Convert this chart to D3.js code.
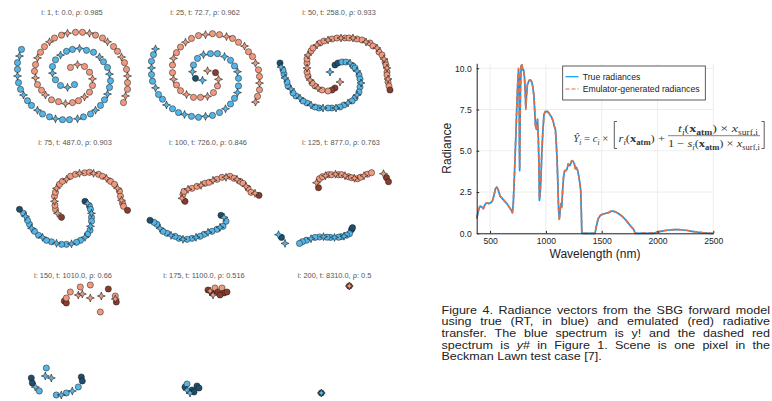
<!DOCTYPE html>
<html>
<head>
<meta charset="utf-8">
<script src="https://cdn.jsdelivr.net/npm/d3@7"></script>
<style>
  body { margin: 0; background: #fff; }
  svg { display: block; }
</style>
</head>
<body>
<div id="fig"></div>
<script>
// ---------- spiral snapshots (offsets from panel centre, px-like units) ----------
// third value: 0 circle, 1 star, 2 dark (overlapping) marker; missing -> alternate
const panelTitles = ["i: 1, t: 0.0, ρ: 0.985", "i: 25, t: 72.7, ρ: 0.962", "i: 50, t: 258.0, ρ: 0.933",
  "i: 75, t: 487.0, ρ: 0.903", "i: 100, t: 726.0, ρ: 0.846", "i: 125, t: 877.0, ρ: 0.763",
  "i: 150, t: 1010.0, ρ: 0.66", "i: 175, t: 1100.0, ρ: 0.516", "i: 200, t: 8310.0, ρ: 0.5"];

const p1Red = [[-2,-9],[5,-12],[12,-10],[17,-4],[20,3],[20,10],[17,17],[12,22],[6,26],[0,28],[-7,29],[-14,27],[-21,25],[-27,20],[-31,15],[-35,9],[-37,2],[-38,-5],[-37,-12],[-35,-19],[-32,-25],[-28,-31],[-23,-36],[-18,-40],[-11,-43],[-5,-45],[3,-46],[10,-46],[17,-45],[23,-43],[30,-40],[35,-36],[41,-31],[45,-26],[49,-20],[52,-14],[54,-7],[55,0],[55,7],[55,14],[53,21],[51,28]];
const p1Blue = [[2,9],[-5,12],[-12,10],[-17,4],[-20,-3],[-20,-10],[-17,-17],[-12,-22],[-6,-26],[0,-28],[7,-29],[14,-27],[21,-25],[27,-20],[31,-15],[35,-9],[37,-2],[38,5],[37,12],[35,19],[32,25],[28,31],[23,36],[18,40],[11,43],[5,45],[-3,46],[-10,46],[-17,45],[-23,43],[-30,40],[-35,36],[-41,31],[-45,26],[-49,20],[-52,14],[-54,7],[-55,0],[-55,-7],[-55,-14],[-53,-21],[-51,-28]];

const p2Red = [[10,-3,2],[13,4],[12,11],[8,18],[2,22],[-5,23],[-12,23],[-19,20],[-25,16],[-29,10],[-32,4],[-33,-3],[-33,-11],[-32,-18],[-29,-24],[-25,-30],[-20,-35],[-14,-39],[-7,-42],[0,-43],[7,-44],[14,-43],[21,-41],[27,-39],[33,-35],[39,-31],[43,-25],[47,-20],[50,-13],[53,-6],[54,1],[54,8],[54,15],[52,22],[50,28],[2,-5,1]];
const p2Blue = [[-10,3,2],[-13,-4],[-12,-11],[-8,-18],[-2,-22],[5,-23],[12,-23],[19,-20],[25,-16],[29,-10],[32,-4],[33,3],[33,11],[32,18],[29,24],[25,30],[20,35],[14,39],[7,42],[0,43],[-7,44],[-14,43],[-21,41],[-27,39],[-33,35],[-39,31],[-43,25],[-47,20],[-50,13],[-53,6],[-54,-1],[-54,-8],[-54,-15],[-52,-22],[-50,-28],[-3,5,1]];

const p3Red = [[0,11,2],[-3,13,2],[-7,14],[-13,13],[-17,11],[-20,9],[-23,6],[-25,3],[-27,-1],[-28,-5],[-28,-9],[-28,-14],[-28,-18],[-27,-22],[-24,-26],[-22,-29],[-18,-32],[-15,-34],[-11,-36],[-7,-37],[-3,-38],[2,-39],[6,-39],[10,-39],[14,-39],[18,-39],[22,-38],[27,-37],[31,-35],[35,-34],[38,-31],[42,-29],[44,-25],[47,-22],[49,-18],[50,-15],[51,-12],[52,-9],[52,-5],[52,-2],[53,2],[53,5],[54,9],[55,13,2],[5,5,1]];
const p3Blue = [[0,-12,2],[3,-14,2],[7,-15],[11,-15],[15,-14],[18,-11],[20,-9],[22,-6],[24,-2],[25,2],[26,6],[25,10],[24,15],[22,18],[20,21],[17,24],[13,26],[9,28],[5,30],[1,31],[-3,31],[-7,31],[-12,31],[-16,31],[-20,30],[-24,28],[-28,26],[-32,24],[-35,21],[-39,19],[-42,16],[-44,12],[-47,9],[-48,5],[-50,1],[-51,-3],[-52,-7],[-54,-10],[-55,-14,2],[-5,-5,1]];

const p4Red = [[-12,8,2],[-16,4],[-18,0],[-18.5,-4],[-19,-8],[-19,-13],[-18,-17],[-17,-21],[-14,-25],[-11,-28],[-7,-30],[-3,-33],[2,-35],[6,-36],[11,-36.5],[16,-37],[20,-36],[25,-35],[29,-33],[33,-31],[37,-28],[41,-25],[44,-21],[46,-18],[47,-13],[48,-9],[49,-6],[50,-3],[54,1,2]];
const p4Blue = [[11.5,-8,2],[14,-6],[16,-3],[17,0],[18,4],[18,8],[18,12],[17,17],[16.5,21],[14,25],[11.5,28],[7,31],[3,33],[-2,34.5],[-7,35],[-12,35],[-17,34],[-22,32.5],[-27,31],[-31,28],[-35,26],[-39,22],[-42,19],[-44,15],[-46,11],[-48,7],[-50,4],[-54,0,2]];

const p5Red = [[-19,-7,2],[-22,-10],[-21,-14],[-20,-17],[-16,-19],[-12,-20],[-7,-22],[-3,-23],[1,-25],[5,-26],[9,-28],[13,-29],[18,-31],[22,-31],[26,-32],[30,-30],[33,-29],[36,-27],[39,-25],[42,-22],[44,-20],[47,-16],[51,-15],[55,-13,2]];
const p5Blue = [[17,7,2],[20,9],[22,13],[19,18],[16,19],[13,21],[8,23],[4,24],[0,26],[-4,28],[-8,29],[-12,30],[-17,31],[-21,31],[-25,30],[-29,28],[-33,27],[-37,25],[-41,23],[-44,20],[-47,16],[-50,14],[-54,12,2]];

const p6Red = [[-16,-21,2],[-18,-26],[-15,-30],[-12,-32],[-9,-33],[-6,-34],[-3,-34],[1,-34.5],[4,-34],[7,-34],[10.5,-33],[14,-32],[17,-31],[20,-30.5],[23,-30],[26,-31.5],[29.5,-33],[33,-34.5],[37,-36,0],[49,-35,1],[52,-31,2],[54,-27,2]];
const p6Blue = [[17,21,2],[18,19,2],[15,25],[12,26.5],[9.5,27.5],[6.5,28],[4,28.5],[0,28.7],[-4,28.7],[-7.5,28.5],[-11,28],[-15,28.3],[-19.5,28.7],[-23.5,30],[-28,31.5],[-32,33],[-35,34.7,0],[-49.5,34.7,1],[-53,28.7,2],[-56,26,1]];

const p7Red = [[-9,-39,2],[-7,-37,2],[-7,-42,0],[-3,-48,0],[7,-53,0],[17,-55,0],[5,-45,1],[9,-46,1],[17,-42,1],[28,-44,1],[27,-28,0],[35,-51,2],[42,-44,0],[43,-38,2],[42,-41,1]];
const p7Blue = [[-27,28,0],[-42,38,2],[-41,43,2],[-38,47,1],[-34,51,0],[-28,36,1],[-22,38,1],[-17,55,0],[-12,55,1],[-7,53,0],[-1,51,1],[5,47,0],[8,37,2],[9,41,2]];

const p8Red = [[3,-50,2],[7,-47,2],[10,-52,0],[13,-48,2],[17,-52,0],[19,-47,2],[22,-48,2],[8,-45,1],[15,-45,2],[5,-49,1]];
const p8Blue = [[-20,47,2],[-18,44,0],[-13,50,2],[-8,46,2],[-6,48,2],[-15,53,1],[-11,52,2],[-18,50,1]];

const p9Red = [[11,-54,2],[11,-54,1]];
const p9Blue = [[-17,53,2],[-17,53,1]];

// ---------- radiance spectrum ----------
const wavelengths = [380,400,410,425,440,455,470,490,505,520,535,548,560,572,590,610,630,650,670,690,700,708,718,726,733,740,748,755,760,763,765,768,772,778,785,792,800,808,815,820,826,834,845,860,872,882,893,900,906,915,925,932,937,942,948,955,963,972,983,995,1010,1030,1050,1065,1075,1085,1092,1100,1107,1113,1120,1128,1135,1142,1150,1158,1168,1180,1190,1200,1215,1232,1245,1255,1264,1272,1285,1296,1305,1312,1318,1322,1440,1455,1470,1490,1510,1530,1560,1590,1620,1650,1680,1710,1740,1765,1785,1797,1802,1960,1990,2030,2070,2110,2150,2190,2230,2270,2310,2350,2400,2450,2500];
const trueRad = [0.9,1.5,1.65,1.6,1.5,1.75,1.85,1.8,1.85,1.95,2.3,2.7,2.8,2.65,2.25,2.1,1.95,1.8,1.6,1.4,1.25,1.8,3.5,5.0,6.3,7.8,9.1,9.9,9.4,5.0,3.8,6.0,8.6,10.1,10.2,9.9,9.9,9.5,8.6,7.6,8.3,9.0,9.2,9.3,9.2,8.9,8.3,7.4,6.6,6.3,6.9,5.8,4.5,2.0,2.3,3.2,4.8,6.1,7.2,7.35,7.4,7.25,7.05,6.8,6.5,6.3,5.6,4.5,3.1,1.6,0.85,1.4,1.8,1.6,2.6,3.4,3.8,3.8,3.9,4.2,4.1,4.4,4.35,4.2,3.9,4.0,3.8,3.4,3.0,2.6,1.2,0,0,0.5,0.9,1.1,1.15,1.2,1.25,1.35,1.3,1.2,1.05,0.85,0.6,0.4,0.25,0.05,0,0,0.05,0.12,0.17,0.2,0.22,0.23,0.2,0.17,0.12,0.08,0.04,0.01,0];
const emuRad = [0.9,1.5,1.65,1.6,1.5,1.75,1.85,1.8,1.85,1.95,2.3,2.7,2.8,2.65,2.25,2.1,1.95,1.8,1.6,1.4,1.25,1.8,3.5,5.1,6.4,7.9,9.2,10.0,9.6,5.3,3.9,6.1,8.7,10.3,10.2,10.0,9.9,9.4,8.5,7.5,8.3,9.0,9.25,9.3,9.2,8.9,8.3,7.4,6.5,6.3,6.9,5.7,4.3,2.1,2.4,3.3,4.8,6.1,7.2,7.4,7.45,7.25,7.05,6.8,6.5,6.3,5.6,4.5,3.0,1.5,0.8,1.4,1.8,1.6,2.6,3.4,3.8,3.8,3.9,4.2,4.1,4.4,4.35,4.2,3.9,4.0,3.8,3.4,3.0,2.6,1.2,0,0,0.55,0.95,1.1,1.15,1.2,1.25,1.38,1.32,1.2,1.05,0.85,0.6,0.4,0.25,0.05,0,0.02,0.07,0.13,0.17,0.2,0.22,0.23,0.2,0.17,0.12,0.08,0.04,0.01,0];
const xTicks = [500, 1000, 1500, 2000, 2500];
const yTicks = [0, 2.5, 5, 7.5, 10];
const seriesNames = ["True radiances", "Emulator-generated radiances"];

const captionLines = [
  "Figure 4. Radiance vectors from the SBG forward model",
  "using true (RT, in blue) and emulated (red) radiative",
  "transfer. The blue spectrum is y! and the dashed red",
  "spectrum is y# in Figure 1. Scene is one pixel in the",
  "Beckman Lawn test case [7]."
];

// ---------- drawing ----------
var svg = d3.select("#fig").append("svg")
    .attr("width", 772)
    .attr("height", 401);
svg.append("rect").attr("width", 772).attr("height", 401).attr("fill", "#fff");

var redFill = "#ef9a7f", blueFill = "#55b5e6", redDark = "#8a3d2c", blueDark = "#1d4f6e";

function sparkle(s) {
    var w = s * 0.28;
    return "M0," + (-s) + "L" + w + "," + (-w) + "L" + s + ",0L" + w + "," + w +
        "L0," + s + "L" + (-w) + "," + w + "L" + (-s) + ",0L" + (-w) + "," + (-w) + "Z";
}

// layout of the 3x3 grid
var panels = [
    {red: p1Red, blue: p1Blue, cx: 72.5, cy: 76, ky: 0.95, tx: 72, ty: 15},
    {red: p2Red, blue: p2Blue, cx: 205.5, cy: 75.5, ky: 0.95, tx: 205, ty: 15},
    {red: p3Red, blue: p3Blue, cx: 335, cy: 77, ky: 1, tx: 339, ty: 15},
    {red: p4Red, blue: p4Blue, cx: 73.5, cy: 209.3, ky: 1, tx: 75, ty: 145},
    {red: p5Red, blue: p5Blue, cx: 204, cy: 208.3, ky: 1, tx: 208, ty: 145},
    {red: p6Red, blue: p6Blue, cx: 334.5, cy: 208.7, ky: 1, tx: 341, ty: 145},
    {red: p7Red, blue: p7Blue, cx: 73.3, cy: 340, ky: 1, tx: 73, ty: 277.5},
    {red: p8Red, blue: p8Blue, cx: 205, cy: 340, ky: 1, tx: 204, ty: 277.5},
    {red: p9Red, blue: p9Blue, cx: 338.3, cy: 340, ky: 1, tx: 334.5, ty: 277.5}
];

panels.forEach(function (p, pi) {
    var x = d3.scaleLinear().domain([-60, 60]).range([p.cx - 60, p.cx + 60]);
    var y = d3.scaleLinear().domain([-60, 60]).range([p.cy - 60 * p.ky, p.cy + 60 * p.ky]);
    var g = svg.append("g");

    g.append("text")
        .attr("x", p.tx).attr("y", p.ty)
        .attr("text-anchor", "middle")
        .style("font-family", "'Liberation Sans', Arial, sans-serif")
        .style("font-size", "7.4px")
        .style("fill", "#555")
        .text(panelTitles[pi]);

    [[p.red, redFill, redDark], [p.blue, blueFill, blueDark]].forEach(function (s) {
        var pts = s[0].map(function (d, i) {
            return {x: d[0], y: d[1], k: d.length > 2 ? d[2] : (i % 3 === 1 ? 1 : 0)};
        });
        // circles first, stars on top
        g.selectAll(null)
            .data(pts.filter(function (d) { return d.k !== 1; }))
            .enter().append("circle")
            .attr("cx", function (d) { return x(d.x); })
            .attr("cy", function (d) { return y(d.y); })
            .attr("r", 3.1)
            .style("fill", function (d) { return d.k === 2 ? s[2] : s[1]; })
            .style("stroke", "#1a1a1a")
            .style("stroke-width", 0.6)
            .style("stroke-opacity", 0.85);
        g.selectAll(null)
            .data(pts.filter(function (d) { return d.k === 1; }))
            .enter().append("path")
            .attr("d", sparkle(4))
            .attr("transform", function (d) { return "translate(" + x(d.x) + "," + y(d.y) + ")"; })
            .style("fill", s[1])
            .style("stroke", "#1a1a1a")
            .style("stroke-width", 0.6);
    });
});

// ---------- radiance chart ----------
var plot = {left: 476.7, right: 713.3, top: 63.3, bottom: 233.3};
var xs = d3.scaleLinear().domain([380, 2500]).range([plot.left, plot.right]);
var ys = d3.scaleLinear().domain([0, 10.3]).range([plot.bottom, plot.top]);
var rc = svg.append("g").style("font-family", "'Liberation Sans', Arial, sans-serif");

// grid
rc.selectAll(null).data(xTicks).enter().append("line")
    .attr("x1", function (d) { return xs(d); }).attr("x2", function (d) { return xs(d); })
    .attr("y1", plot.top).attr("y2", plot.bottom)
    .style("stroke", "#e5e5e5").style("stroke-width", 0.7);
rc.selectAll(null).data(yTicks).enter().append("line")
    .attr("x1", plot.left).attr("x2", plot.right)
    .attr("y1", function (d) { return ys(d); }).attr("y2", function (d) { return ys(d); })
    .style("stroke", "#e5e5e5").style("stroke-width", 0.7);

// equation annotation
var eq = svg.append("g")
    .style("font-family", "'Liberation Serif', 'DejaVu Serif', serif")
    .style("font-size", "10.5px")
    .style("fill", "#333");

function mathText(x, y, len, parts) {
    var t = eq.append("text").attr("x", x).attr("y", y)
        .attr("textLength", len).attr("lengthAdjust", "spacingAndGlyphs");
    var down = false;
    parts.forEach(function (pt) {
        var o = pt[1] || {};
        var ts = t.append("tspan").text(pt[0]);
        if (o.i) ts.style("font-style", "italic");
        if (o.b) ts.style("font-weight", "bold");
        if (o.sub) {
            ts.style("font-size", "7.2px");
            if (!down) { ts.attr("dy", 2.2); down = true; }
        } else if (down) {
            ts.attr("dy", -2.2); down = false;
        }
    });
}
mathText(573.3, 142.3, 35, [["Ŷ", {i: 1}], ["i", {i: 1, sub: 1}], [" = "], ["c", {i: 1}], ["i", {i: 1, sub: 1}], [" ×"]]);
eq.append("path").attr("d", "M617,121.5H614.3V148.5H617").style("fill", "none").style("stroke", "#333").style("stroke-width", 0.8);
mathText(618.5, 142.3, 46.5, [["r", {i: 1}], ["i", {i: 1, sub: 1}], ["("], ["x", {b: 1}], ["atm", {b: 1, sub: 1}], [")"], [" +"]]);
mathText(678, 132.3, 80, [["t", {i: 1}], ["i", {i: 1, sub: 1}], ["("], ["x", {b: 1}], ["atm", {b: 1, sub: 1}], [")"], [" × "], ["x", {i: 1}], ["surf,i", {sub: 1}]]);
eq.append("line").attr("x1", 668).attr("x2", 760).attr("y1", 135.7).attr("y2", 135.7).style("stroke", "#333").style("stroke-width", 0.6);
mathText(668, 147.3, 92, [["1 − "], ["s", {i: 1}], ["i", {i: 1, sub: 1}], ["("], ["x", {b: 1}], ["atm", {b: 1, sub: 1}], [")"], [" × "], ["x", {i: 1}], ["surf,i", {sub: 1}]]);
eq.append("path").attr("d", "M761.5,121.5H764.2V148.5H761.5").style("fill", "none").style("stroke", "#333").style("stroke-width", 0.8);

// spectra
var line = function (vals) {
    return d3.line()
        .x(function (d, i) { return xs(wavelengths[i]); })
        .y(function (d) { return ys(d); })(vals);
};
rc.append("path").attr("d", line(trueRad))
    .style("fill", "none").style("stroke", "#009afa").style("stroke-width", 1.7)
    .style("stroke-linejoin", "round");
rc.append("path").attr("d", line(emuRad))
    .style("fill", "none").style("stroke", "#e26f46").style("stroke-width", 1.7)
    .style("stroke-dasharray", "5,2.5").style("stroke-linejoin", "round");

// axes
var xAxis = rc.append("g").attr("transform", "translate(0," + plot.bottom + ")")
    .call(d3.axisBottom(xs).tickValues(xTicks).tickFormat(d3.format("d")).tickSizeInner(-2.5).tickSizeOuter(0).tickPadding(5));
var yAxis = rc.append("g").attr("transform", "translate(" + plot.left + ",0)")
    .call(d3.axisLeft(ys).tickValues(yTicks).tickFormat(d3.format(".1f")).tickSizeInner(-2.5).tickSizeOuter(0).tickPadding(5));
[xAxis, yAxis].forEach(function (a) {
    a.select(".domain").style("stroke", "#222").style("stroke-width", 1);
    a.selectAll(".tick line").style("stroke", "#222");
    a.selectAll(".tick text").style("font-family", "'Liberation Sans', Arial, sans-serif")
        .style("font-size", "8.6px").style("fill", "#222");
});

rc.append("text").attr("x", (plot.left + plot.right) / 2).attr("y", 258.3)
    .attr("text-anchor", "middle").style("font-size", "12px").style("fill", "#222")
    .text("Wavelength (nm)");
rc.append("text").attr("transform", "translate(450.5," + ((plot.top + plot.bottom) / 2) + ") rotate(-90)")
    .attr("text-anchor", "middle").style("font-size", "12px").style("fill", "#222")
    .text("Radiance");

// legend
var lg = rc.append("g");
lg.append("rect").attr("x", 562.7).attr("y", 66).attr("width", 142.6).attr("height", 34)
    .style("fill", "#fff").style("stroke", "#333").style("stroke-width", 0.8);
seriesNames.forEach(function (name, i) {
    var yy = 76.7 + i * 12.3;
    lg.append("line").attr("x1", 565.5).attr("x2", 578.5).attr("y1", yy).attr("y2", yy)
        .style("stroke", i === 0 ? "#009afa" : "#e26f46").style("stroke-width", 1.2)
        .style("stroke-dasharray", i === 0 ? null : "4,2");
    lg.append("text").attr("x", 582.7).attr("y", yy + 3).style("font-size", "8.7px").style("fill", "#222")
        .text(name);
});

// ---------- caption (justified, slightly wide glyphs like the source) ----------
var capLeft = 441.5, capRight = 770, sx = 1.12;
var cap = svg.append("g")
    .attr("transform", "translate(" + capLeft + ",0) scale(" + sx + ",1)")
    .style("font-family", "'Liberation Sans', Arial, sans-serif")
    .style("font-size", "11.2px")
    .style("fill", "#222");
captionLines.forEach(function (ln, li) {
    var yy = 313.8 + li * 11.62;
    var words = ln.split(" ");
    var nodes = words.map(function (w) {
        var t = cap.append("text").attr("y", yy);
        if (w === "y#") {
            t.append("tspan").style("font-style", "italic").text("y");
            t.append("tspan").text("#");
        } else {
            t.text(w);
        }
        return t;
    });
    var widths = nodes.map(function (n) { return n.node().getComputedTextLength(); });
    var total = d3.sum(widths);
    var span = (capRight - capLeft) / sx;
    var last = li === captionLines.length - 1;
    var gap = last ? 3.1 : (span - total) / (words.length - 1);
    var xx = 0;
    nodes.forEach(function (n, i) {
        n.attr("x", xx);
        xx += widths[i] + gap;
    });
});
</script>
</body>
</html>
